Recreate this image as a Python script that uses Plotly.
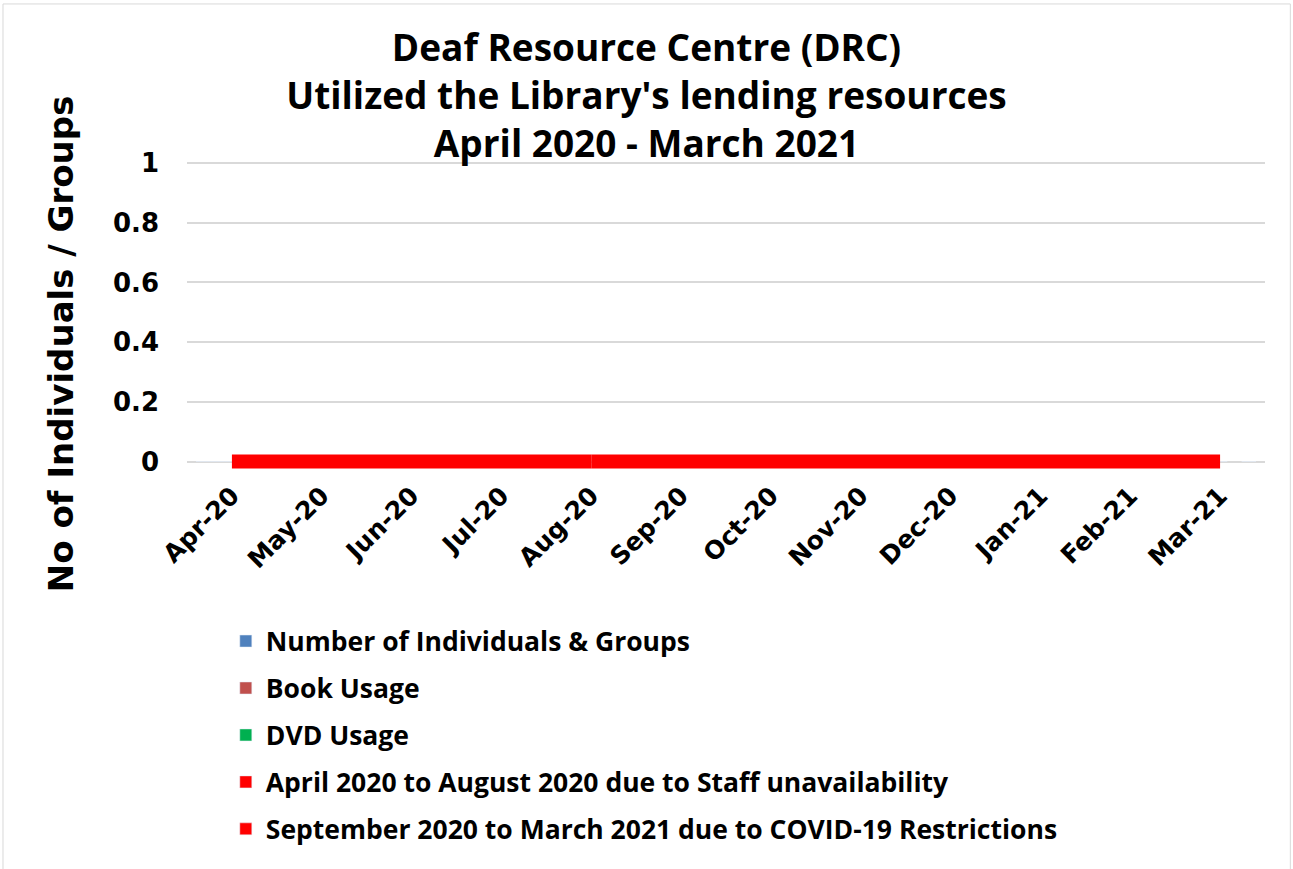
import plotly.graph_objects as go

months = ["Apr-20", "May-20", "Jun-20", "Jul-20", "Aug-20", "Sep-20",
          "Oct-20", "Nov-20", "Dec-20", "Jan-21", "Feb-21", "Mar-21"]
individuals = [0] * 12
book_usage = [0] * 12
dvd_usage = [0] * 12
staff_months = months[0:5]
staff_values = [0, 0, 0, 0, 0]
covid_months = months[4:12]
covid_values = [0, 0, 0, 0, 0, 0, 0, 0]

series = [
    ("Number of Individuals & Groups", months, individuals, "#4F81BD"),
    ("Book Usage", months, book_usage, "#C0504D"),
    ("DVD Usage", months, dvd_usage, "#00B050"),
]

fig = go.Figure()
for i, (name, xs, ys, col) in enumerate(series):
    fig.add_trace(go.Bar(x=xs, y=ys, name=name, marker_color=col,
                         legendgroup=f"g{i}"))

fig.add_trace(go.Bar(x=staff_months, y=staff_values,
                     name="April 2020 to August 2020 due to Staff unavailability",
                     marker_color="#FF0000", legendgroup="g3"))
fig.add_trace(go.Bar(x=covid_months, y=covid_values,
                     name="September 2020 to March 2021 due to COVID-19 Restrictions",
                     marker_color="#FF0000", legendgroup="g4"))
fig.add_trace(go.Scatter(x=staff_months, y=staff_values, mode="lines",
                         line=dict(color="#FF0000", width=14),
                         showlegend=False, legendgroup="g3", hoverinfo="skip"))
fig.add_trace(go.Scatter(x=covid_months, y=covid_values, mode="lines",
                         line=dict(color="#FF0000", width=14),
                         showlegend=False, legendgroup="g4", hoverinfo="skip"))

fig.update_layout(
    width=1293, height=869,
    paper_bgcolor="white", plot_bgcolor="white",
    margin=dict(l=187, r=28, t=160, b=400),
    barmode="group",
    title=dict(
        text="Deaf Resource Centre (DRC)<br>Utilized the Library's lending resources<br>April 2020 - March 2021",
        x=0.5, xref="container", y=0.930, yref="container", yanchor="middle",
        font=dict(family="Open Sans", size=37, color="black", weight="bold"),
    ),
    showlegend=True,
    legend=dict(
        orientation="v", xref="paper", yref="paper",
        x=0.036, y=-0.48, xanchor="left", yanchor="top",
        font=dict(family="Open Sans", size=26.5, color="black", weight="bold"),
        tracegroupgap=9.5, bgcolor="rgba(0,0,0,0)",
    ),
    annotations=[dict(
        text="No of Individuals / Groups", textangle=-90,
        xref="paper", yref="paper", x=-0.1169, y=0.407,
        xanchor="center", yanchor="middle", showarrow=False,
        font=dict(family="DejaVu Sans", size=34, color="black", weight="bold"),
    )],
    shapes=[dict(type="rect", xref="paper", yref="paper",
                 x0=-0.1707, x1=1.0235, y0=-1.4, y1=1.505,
                 line=dict(color="#D9D9D9", width=1), layer="below")],
)
fig.update_xaxes(
    type="category", categoryorder="array", categoryarray=months,
    tickangle=-45, showgrid=False, showline=False, ticks="",
    ticklabelstandoff=6,
    tickfont=dict(family="DejaVu Sans", size=25, color="black", weight="bold"),
)
fig.update_yaxes(
    range=[-0.025, 1.01], tickvals=[0, 0.2, 0.4, 0.6, 0.8, 1],
    ticktext=["0", "0.2", "0.4", "0.6", "0.8", "1"],
    showgrid=True, gridcolor="#D9D9D9", gridwidth=1.5, zeroline=False,
    showline=False, ticks="", ticklabelstandoff=27,
    tickfont=dict(family="DejaVu Sans", size=26, color="black", weight="bold"),
)

fig.write_html("out.html", config={"displayModeBar": False},
               post_script="document.body.style.margin='0';")
